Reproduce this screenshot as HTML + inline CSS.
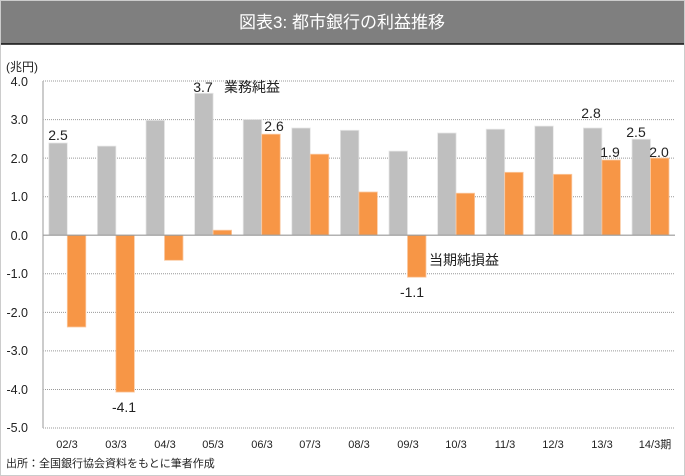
<!DOCTYPE html>
<html><head><meta charset="utf-8"><style>
html,body{margin:0;padding:0;background:#fff;}
svg{display:block;font-family:"Liberation Sans","Noto Sans CJK JP",sans-serif;}
</style></head><body>
<svg width="685" height="476" viewBox="0 0 685 476" xmlns="http://www.w3.org/2000/svg">
<rect x="0" y="0" width="685" height="476" fill="#fff"/>
<rect x="0" y="0" width="685" height="44" fill="#7f7f7f"/>
<line x1="0" y1="44" x2="685" y2="44" stroke="#111" stroke-width="1.5"/>
<text x="342" y="28" fill="#fff" font-size="17" text-anchor="middle">図表3: 都市銀行の利益推移</text>
<text x="6" y="71" font-size="12" fill="#222">(兆円)</text>
<g stroke="#999" stroke-width="1" stroke-dasharray="1,1">
<line x1="43" y1="81" x2="675" y2="81"/><line x1="43" y1="119.6" x2="675" y2="119.6"/>
<line x1="43" y1="158.1" x2="675" y2="158.1"/><line x1="43" y1="196.7" x2="675" y2="196.7"/>
<line x1="43" y1="273.8" x2="675" y2="273.8"/><line x1="43" y1="312.4" x2="675" y2="312.4"/>
<line x1="43" y1="350.9" x2="675" y2="350.9"/><line x1="43" y1="389.5" x2="675" y2="389.5"/>
<line x1="43" y1="428" x2="675" y2="428"/>
</g>
<g font-size="12.5" fill="#222" text-anchor="end">
<text x="28" y="86">4.0</text><text x="28" y="124">3.0</text><text x="28" y="163">2.0</text><text x="28" y="201">1.0</text>
<text x="28" y="240">0.0</text><text x="28" y="278">-1.0</text><text x="28" y="317">-2.0</text><text x="28" y="355">-3.0</text>
<text x="28" y="394">-4.0</text><text x="28" y="432">-5.0</text>
</g>
<g fill="#bfbfbf" stroke="#e6e6e6" stroke-width="0.8">
<rect x="48.8" y="143.0" width="18.5" height="92.2"/>
<rect x="97.4" y="146.1" width="18.5" height="89.1"/>
<rect x="146.0" y="120.3" width="18.5" height="114.9"/>
<rect x="194.6" y="93.3" width="18.5" height="141.9"/>
<rect x="243.2" y="119.5" width="18.5" height="115.7"/>
<rect x="291.8" y="128.0" width="18.5" height="107.2"/>
<rect x="340.4" y="130.3" width="18.5" height="104.9"/>
<rect x="389.0" y="151.1" width="18.5" height="84.1"/>
<rect x="437.6" y="133.0" width="18.5" height="102.2"/>
<rect x="486.2" y="129.2" width="18.5" height="106.0"/>
<rect x="534.8" y="126.1" width="18.5" height="109.1"/>
<rect x="583.4" y="128.0" width="18.5" height="107.2"/>
<rect x="632.0" y="139.2" width="18.5" height="96.0"/>
</g>
<g fill="#f79646" stroke="#fbc9a0" stroke-width="0.8">
<rect x="67.3" y="235.2" width="18.5" height="91.8"/>
<rect x="115.9" y="235.2" width="18.5" height="156.9"/>
<rect x="164.5" y="235.2" width="18.5" height="25.1"/>
<rect x="213.1" y="230.2" width="18.5" height="5.0"/>
<rect x="261.7" y="134.2" width="18.5" height="101.0"/>
<rect x="310.3" y="154.2" width="18.5" height="81.0"/>
<rect x="358.9" y="192.0" width="18.5" height="43.2"/>
<rect x="407.5" y="235.2" width="18.5" height="42.0"/>
<rect x="456.1" y="193.2" width="18.5" height="42.0"/>
<rect x="504.7" y="172.3" width="18.5" height="62.9"/>
<rect x="553.3" y="174.3" width="18.5" height="60.9"/>
<rect x="601.9" y="160.0" width="18.5" height="75.2"/>
<rect x="650.5" y="158.1" width="18.5" height="77.1"/>
</g>
<line x1="43" y1="81" x2="43" y2="428" stroke="#bbb" stroke-width="1.5"/>
<line x1="43" y1="235.2" x2="675" y2="235.2" stroke="#999" stroke-width="1.2"/>
<g font-size="14" fill="#222" text-anchor="middle">
<text x="58" y="140">2.5</text>
<text x="124" y="412">-4.1</text>
<text x="203" y="92">3.7</text>
<text x="274" y="131">2.6</text>
<text x="412" y="297">-1.1</text>
<text x="591" y="118">2.8</text>
<text x="610" y="157">1.9</text>
<text x="636" y="137">2.5</text>
<text x="659" y="157">2.0</text>
<text x="252" y="92">業務純益</text>
<text x="464" y="265">当期純損益</text>
</g>
<g font-size="11" fill="#222" text-anchor="middle">
<text x="67" y="448">02/3</text><text x="116" y="448">03/3</text><text x="165" y="448">04/3</text><text x="213" y="448">05/3</text>
<text x="262" y="448">06/3</text><text x="310" y="448">07/3</text><text x="359" y="448">08/3</text><text x="408" y="448">09/3</text>
<text x="456" y="448">10/3</text><text x="505" y="448">11/3</text><text x="553" y="448">12/3</text><text x="602" y="448">13/3</text>
<text x="655" y="448">14/3期</text>
</g>
<text x="6" y="467" font-size="11" fill="#222">出所：全国銀行協会資料をもとに筆者作成</text>
<rect x="0.5" y="0.5" width="684" height="475" fill="none" stroke="#ccc"/>
</svg>
</body></html>
